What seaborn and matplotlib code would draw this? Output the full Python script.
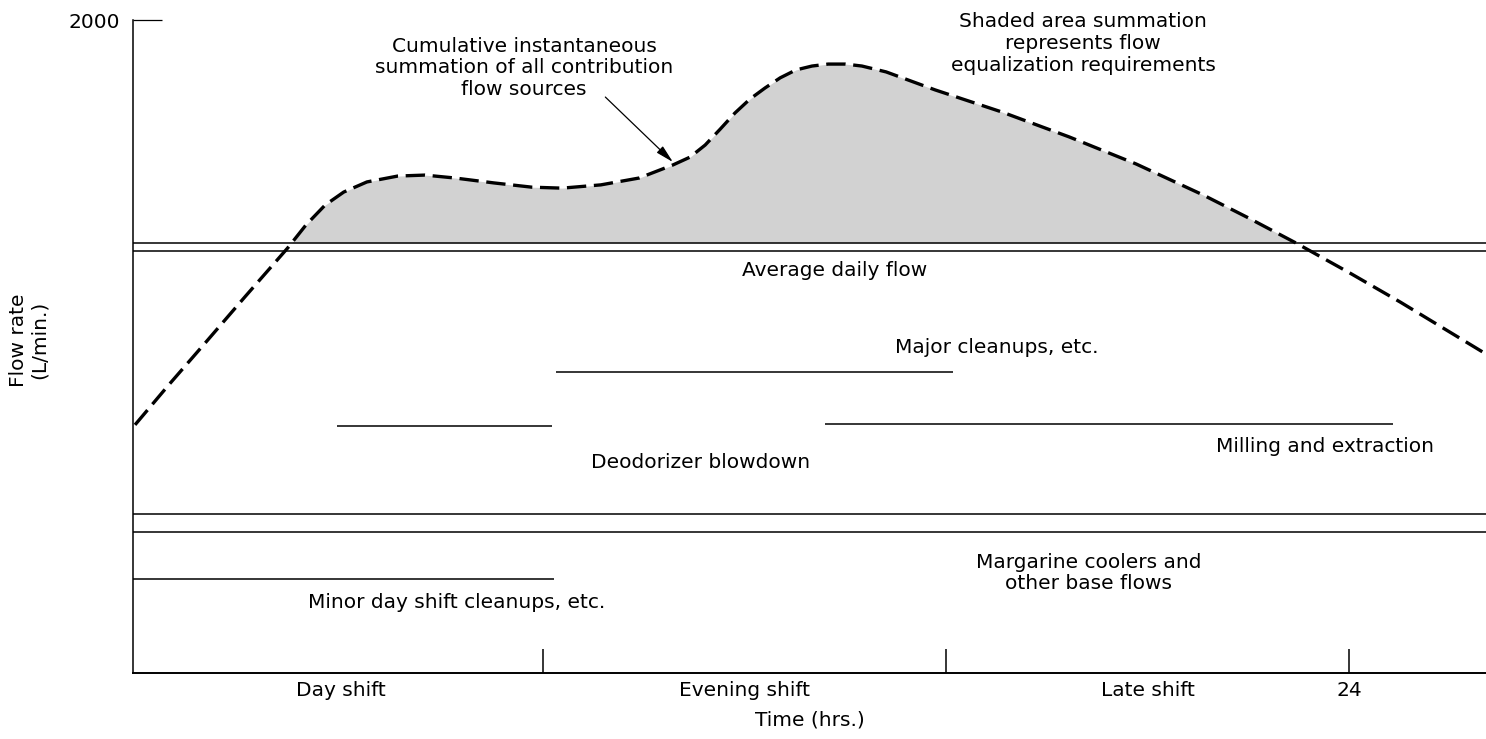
import matplotlib
matplotlib.use("Agg")
import matplotlib.pyplot as plt
import seaborn as sns
import pandas as pd

# Combined plant outflow over a day (hours vs L/min)
hours = [-0.09, 0.56, 1.32, 2.09, 2.94, 3.30, 3.68, 4.05, 4.51, 5.12, 5.66, 6.26,
         7.03, 7.78, 8.38, 9.15, 9.91, 10.58, 10.92, 11.22, 11.52, 11.81, 12.11,
         12.41, 12.71, 13.02, 13.34, 13.66, 14.00, 14.33, 14.81, 15.78, 17.11,
         18.44, 19.77, 21.10, 21.97, 22.94, 24.01, 25.01, 26.25, 26.71]
total_flow = [760, 879, 1014, 1152, 1302, 1372, 1433, 1473, 1504, 1522, 1525, 1516,
              1501, 1488, 1485, 1495, 1516, 1556, 1580, 1617, 1666, 1715, 1758,
              1792, 1823, 1847, 1859, 1865, 1865, 1859, 1841, 1786, 1718,
              1642, 1559, 1464, 1396, 1317, 1225, 1136, 1020, 977]

# Average daily flow, drawn as a double rule
avg_flow = [1317, 1291]
# Base flow band (margarine coolers etc.), double rule
base_flow = [487, 432]

# Individual contributions: start hr, end hr, level
sources = ["Minor day shift cleanups", "Deodorizer blowdown",
           "Major cleanups", "Milling and extraction"]
src_start = [-0.13, 3.92, 8.26, 13.60]
src_end = [8.22, 8.18, 16.14, 24.87]
src_level = [288, 756, 922, 763]

shift_names = ["Day shift", "Evening shift", "Late shift"]
shift_centers = [4, 12, 20]
shift_bounds = [8, 16, 24]
shift_bound_labels = ["", "", "24"]

sns.set_theme(style="white")
plt.rcParams["font.family"] = ["DejaVu Sans"]
plt.rcParams["text.color"] = "black"
plt.rcParams["axes.labelcolor"] = "black"
plt.rcParams["xtick.color"] = "black"
plt.rcParams["ytick.color"] = "black"

W, H = 1486, 739
fig = plt.figure(figsize=(W / 100, H / 100), dpi=100)
ax = fig.add_axes([133 / W, (H - 673) / H, (W - 133) / W, (673 - 20) / H])

xmin, xmax = -0.13, 26.71
ax.set_xlim(xmin, xmax)
ax.set_ylim(0, 2000)

df = pd.DataFrame({"hours": hours, "flow": total_flow})

# shaded excess above average flow
upper_avg = max(avg_flow)
ax.fill_between(df["hours"], df["flow"], upper_avg,
                where=df["flow"] >= upper_avg, interpolate=True,
                color="#d2d2d2", lw=0, zorder=1)

for lvl in avg_flow + base_flow:
    ax.hlines(lvl, xmin, xmax, color="black", lw=1.1, zorder=2)

ax.hlines(src_level, src_start, src_end, color="black", lw=1.1, zorder=2)

sns.lineplot(data=df, x="hours", y="flow", ax=ax, color="black", lw=2.4,
             linestyle=(0, (5.8, 2.3)), sort=False, zorder=3)

fs = 14.5
txt = dict(ha="center", va="center", fontsize=fs, color="black", linespacing=1.18)
ax.text(7.63, 1853, "Cumulative instantaneous\nsummation of all contribution\nflow sources", **txt)
ax.text(18.72, 1928, "Shaded area summation\nrepresents flow\nequalization requirements", **txt)
ax.text(13.78, 1234, "Average daily flow", **txt)
ax.text(17.01, 998, "Major cleanups, etc.", **txt)
ax.text(11.12, 646, "Deodorizer blowdown", **txt)
ax.text(23.52, 695, "Milling and extraction", **txt)
ax.text(18.82, 306, "Margarine coolers and\nother base flows", **txt)
ax.text(6.28, 217, "Minor day shift cleanups, etc.", **txt)

ax.annotate("", xy=(10.58, 1565), xytext=(9.24, 1764),
            arrowprops=dict(arrowstyle="-|>,head_length=0.9,head_width=0.22",
                            color="black", lw=0.9, shrinkA=0, shrinkB=0),
            zorder=4)

# axes frame
for side in ("top", "right"):
    ax.spines[side].set_visible(False)
ax.spines["left"].set_color("black")
ax.spines["left"].set_linewidth(1.1)
ax.spines["bottom"].set_color("black")
ax.spines["bottom"].set_linewidth(1.4)

ax.set_xticks(shift_bounds, shift_bound_labels)
ax.set_xticks(shift_centers, shift_names, minor=True)
ax.tick_params(axis="x", which="major", direction="in", length=17, width=1.1,
               color="black", labelsize=fs, labelcolor="black", pad=6)
ax.tick_params(axis="x", which="minor", length=0, labelsize=fs,
               labelcolor="black", pad=6)
ax.set_yticks([2000], ["2000"])
ax.tick_params(axis="y", which="major", direction="in", length=21, width=0.9,
               color="black", labelsize=fs, labelcolor="black", pad=9)
ax.tick_params(bottom=True, left=True)

ax.set_xlabel("Time (hrs.)", fontsize=fs, labelpad=7, color="black")
fig.text(29 / W, 1 - 340 / H, "Flow rate\n(L/min.)", rotation=90,
         ha="center", va="center", fontsize=fs, linespacing=1.1)
ax.set_ylabel("")

fig.savefig("out.png", dpi=100, facecolor="white")
